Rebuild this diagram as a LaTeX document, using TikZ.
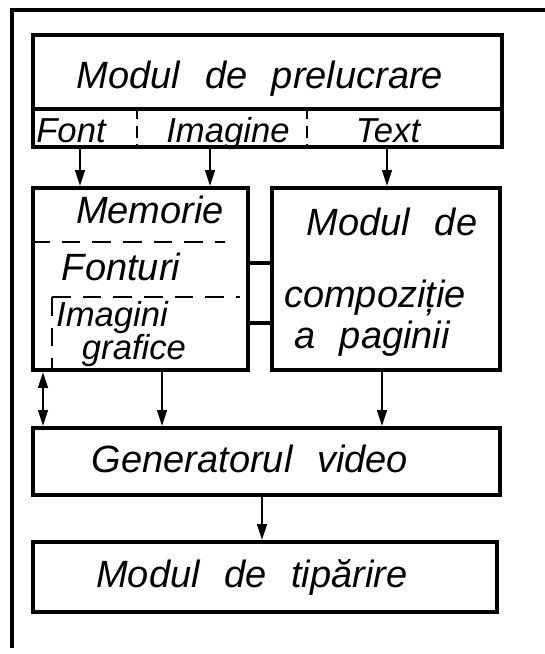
\documentclass[tikz,border=0pt]{standalone}
\usepackage{fontspec}
\setmainfont{Liberation Sans}
\usetikzlibrary{arrows.meta,fit}
\tikzset{
  box/.style={draw,line width=2.8pt,inner sep=0pt},
  lbl/.style={anchor=base,inner sep=0pt,font={\fontsize{28.5}{33}\selectfont\itshape\spaceskip=0.65em\relax}},
  lbls/.style={lbl,font={\fontsize{26}{30}\selectfont\itshape}},
  arr/.style={line width=2.2pt,-{Triangle[length=12pt,width=7pt]}},
  darr/.style={line width=2.2pt,{Triangle[length=12pt,width=7pt]}-{Triangle[length=12pt,width=7pt]}},
  dsh/.style={line width=2.2pt,dash pattern=on 14pt off 9pt},
}
\begin{document}
\begin{tikzpicture}[x=0.75pt,y=-0.75pt]
\useasboundingbox (0,0) rectangle (545,654);
% frame
\draw[line width=2.4pt] (545,10) -- (12,10) -- (12,648);
% boxes
\node[box,fit={(33,35) (502,109)}] (prel) {};
\node[box,fit={(33,109) (502,147)}] (sub) {};
\node[box,fit={(33,188) (248,370)}] (mem) {};
\node[box,fit={(272,188) (500,370)}] (comp) {};
\node[box,fit={(33,428) (500,495)}] (gen) {};
\node[box,fit={(33,542) (497,612)}] (tip) {};
% texts
\node[lbl] (tprel) at (260,88) {Modul de prelucrare};
\node[lbls] (tfont) at (71,142) {Font};
\node[lbls] (timg) at (228,142) {Imagine};
\node[lbls] (ttext) at (388,142) {Text};
\node[lbl] (tmem) at (150,223) {Memorie};
\node[lbl] (tfnt) at (121,280) {Fonturi};
\node[lbls] (timag) at (112,326) {Imagini};
\node[lbls] (tgraf) at (134,359) {grafice};
\node[lbl] (tcompa) at (392,235) {Modul de};
\node[lbl] (tcompb) at (375,307) {compoziție};
\node[lbl] (tcompc) at (372,348) {a paginii};
\node[lbl] (tgen) at (250,472) {Generatorul video};
\node[lbl] (ttip) at (252,587) {Modul de tipărire};
% where the links run
\coordinate (xa) at (80,0);
\coordinate (xb) at (210,0);
\coordinate (xc) at (387,0);
\coordinate (xd) at (43,0);
\coordinate (xe) at (162,0);
\coordinate (xf) at (382,0);
\coordinate (xg) at (262,0);
\coordinate (xs) at (137,0);
\coordinate (xt) at (307,0);
\coordinate (ya) at (0,263);
\coordinate (yb) at (0,323);
\coordinate (da) at (225,242);
\coordinate (db) at (52,297);
\coordinate (dc) at (240,297);
% dividers
\draw[line width=1.8pt,dash pattern=on 9pt off 5pt] (sub.north -| xs) -- (sub.south -| xs);
\draw[line width=1.8pt,dash pattern=on 9pt off 5pt] (sub.north -| xt) -- (sub.south -| xt);
\draw[dsh] (mem.west |- da) -- (da);
\draw[dsh] (db) -- (dc);
\draw[dsh] (db) -- (mem.south -| db);
% links
\draw[arr] (sub.south -| xa) -- (mem.north -| xa);
\draw[arr] (sub.south -| xb) -- (mem.north -| xb);
\draw[arr] (sub.south -| xc) -- (comp.north -| xc);
\draw[line width=2.4pt] (mem.east |- ya) -- (comp.west |- ya);
\draw[line width=2.4pt] (mem.east |- yb) -- (comp.west |- yb);
\draw[darr] (mem.south -| xd) -- (gen.north -| xd);
\draw[arr] (mem.south -| xe) -- (gen.north -| xe);
\draw[arr] (comp.south -| xf) -- (gen.north -| xf);
\draw[arr] (gen.south -| xg) -- (tip.north -| xg);
\end{tikzpicture}
\end{document}
